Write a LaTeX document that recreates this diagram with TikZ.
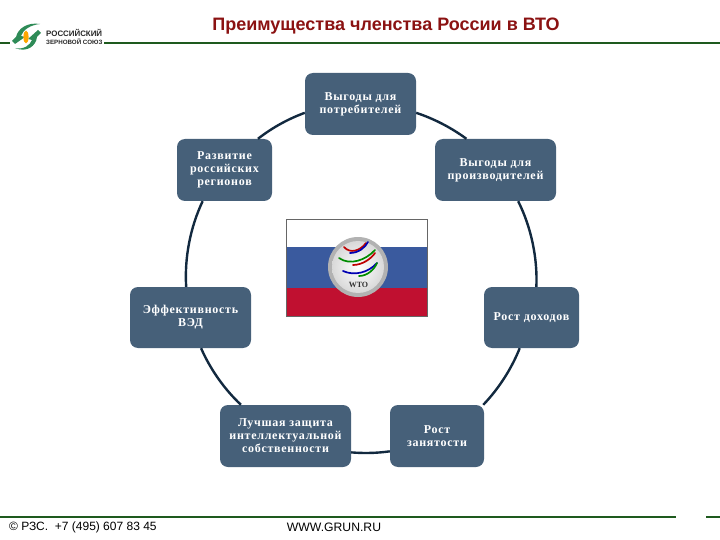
\documentclass[tikz,border=0pt]{standalone}
\usepackage{fontspec}
\setmainfont{Liberation Sans}
\newfontfamily\boxfont[LetterSpace=6]{Liberation Serif}
\newfontfamily\wtofont{Liberation Serif}
\usetikzlibrary{calc}
\definecolor{boxfill}{HTML}{466079}
\definecolor{ringcol}{HTML}{12293F}
\definecolor{barcol}{HTML}{1E5A1E}
\definecolor{titlecol}{HTML}{8B1212}
\definecolor{flagblue}{HTML}{3A5A9E}
\definecolor{flagred}{HTML}{C01030}
\definecolor{logogreen}{HTML}{2E8B57}
\tikzset{
  benefit/.style={draw=none,fill=boxfill,rounded corners=8pt,text=white,align=center,inner sep=0pt,
    font=\boxfont\bfseries\fontsize{12}{13}\selectfont},
  ring/.style={draw=ringcol,line width=2.4pt,looseness=0.85},
  bar/.style={draw=barcol,line width=1.8pt},
  swoosh/.style={line width=1.7pt,line cap=round}
}
\begin{document}
\begin{tikzpicture}[x=1pt,y=-1pt]
\useasboundingbox (0,0) rectangle (720,540);
% header and footer
\draw[bar] (0,43) -- (10,43);
\draw[bar] (104,43) -- (720,43);
\draw[bar] (0,517) -- (676,517);
\draw[bar] (706,517) -- (720,517);
\node[font=\bfseries\fontsize{18}{20}\selectfont,text=titlecol] (title) at (386,26) {Преимущества членства России в ВТО};
\node[font=\fontsize{12}{14}\selectfont,text=black,anchor=west,inner sep=0pt] (foot1) at (9,527.5) {© РЗС.\ \ +7 (495) 607 83 45};
\node[font=\fontsize{12.2}{14}\selectfont,text=black,inner sep=0pt] (foot2) at (334,527.5) {WWW.GRUN.RU};
% logo
\fill[logogreen] (12,41) -- (16,37) .. controls (18,28) and (28,22) .. (40,24) .. controls (30,25) and (23,30) .. (21,36) -- (25,37) -- (15,44) -- cycle;
\fill[logogreen] (41,33) -- (37,37) .. controls (36,46) and (27,53) .. (15,48) .. controls (24,50) and (30,45) .. (32,40) -- (28,39) -- (38,30) -- cycle;
\fill[orange!70!yellow] (26,37) ellipse (2.6pt and 6.5pt);
\node[font=\bfseries\fontsize{7.9}{9}\selectfont,text=black!85,anchor=west,inner sep=0pt] (logo1) at (46,32.5) {РОССИЙСКИЙ};
\node[font=\bfseries\fontsize{6.2}{7}\selectfont,text=black!85,anchor=west,inner sep=0pt] (logo2) at (46,41.5) {ЗЕРНОВОЙ СОЮЗ};
% flag
\fill[white] (286,219) rectangle (427,247);
\fill[flagblue] (286,247) rectangle (427,288);
\fill[flagred] (286,288) rectangle (427,316);
\draw[black!60,line width=0.6pt] (286,219) rectangle (427,316);
\fill[black!30] (358,267) circle (30);
\shade[inner color=white,outer color=black!15] (358,267) circle (26);
\draw[swoosh,red!75!black] (344,247) .. controls (350,254) and (360,251) .. (366,243);
\draw[swoosh,blue!70!black] (350,253) .. controls (358,253) and (365,248) .. (368,242);
\draw[swoosh,green!55!black] (339,258) .. controls (350,266) and (366,260) .. (375,250);
\draw[swoosh,red!75!black] (353,265) .. controls (362,265) and (371,259) .. (375,253);
\draw[swoosh,blue!70!black] (343,271) .. controls (354,276) and (368,273) .. (377,263);
\draw[swoosh,green!55!black] (359,276) .. controls (367,276) and (374,270) .. (377,263);
\node[font=\fontsize{8}{9}\selectfont\bfseries\wtofont,text=black!80,inner sep=0pt] (wto) at (358.5,285) {WTO};
% ring
\node[benefit,minimum width=111pt,minimum height=62pt] (consumers) at (360.5,104) {Выгоды для\\потребителей};
\node[benefit,minimum width=95pt,minimum height=62pt] (regions) at (224.5,170) {Развитие\\российских\\регионов};
\node[benefit,minimum width=121pt,minimum height=62pt] (producers) at (495.5,170) {Выгоды для\\производителей};
\node[benefit,minimum width=121pt,minimum height=61pt] (fea) at (190.5,317.5) {Эффективность\\ВЭД};
\node[benefit,minimum width=95pt,minimum height=61pt] (income) at (531.5,317.5) {Рост доходов};
\node[benefit,minimum width=131pt,minimum height=62pt] (ip) at (285.5,436) {Лучшая защита\\интеллектуальной\\собственности};
\node[benefit,minimum width=94pt,minimum height=62pt] (jobs) at (437,436) {Рост\\занятости};
\draw[ring] (consumers.189) to[bend right=9] (regions.43.6);
\draw[ring] (consumers.-9) to[bend left=9] (producers.133.6);
\draw[ring] (regions.235.3) to[bend right=14.5] (fea.98.4);
\draw[ring] (producers.-54) to[bend left=14.5] (income.81.6);
\draw[ring] (fea.-71) to[bend right=11.5] (ip.145.7);
\draw[ring] (income.249.3) to[bend left=11] (jobs.34.6);
\draw[ring] (ip.-14.5) to[bend right=6.4] (jobs.198.8);
\end{tikzpicture}
\end{document}
